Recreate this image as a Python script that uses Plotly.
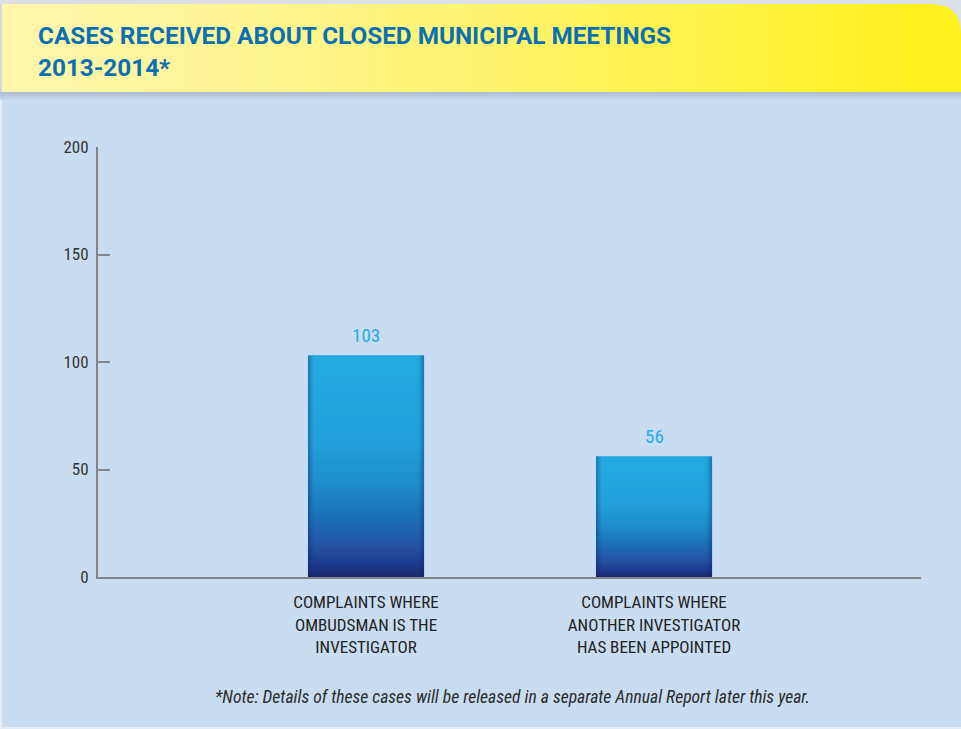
import plotly.graph_objects as go

# ---------------- data ----------------
categories = [
    "COMPLAINTS WHERE<br>OMBUDSMAN IS THE<br>INVESTIGATOR",
    "COMPLAINTS WHERE<br>ANOTHER INVESTIGATOR<br>HAS BEEN APPOINTED",
]
case_counts = [103, 56]
y_tick_values = [0, 50, 100, 150, 200]
title_lines = ["CASES RECEIVED ABOUT CLOSED MUNICIPAL MEETINGS", "2013-2014*"]
footnote = "*Note: Details of these cases will be released in a separate Annual Report later this year."

# ---------------- layout constants ----------------
W, H = 961, 729
ML, MR, MT, MB = 98, 40, 147, 152
PW, PH = W - ML - MR, H - MT - MB
NARROW = "Roboto Condensed, Liberation Sans, sans-serif"
BG = "#c8ddf1"


def px(xp):
    return (xp - ML) / PW


def py(yp):
    return (H - MB - yp) / PH


positions = list(range(len(categories)))
bar_w = 0.403

fig = go.Figure()

fig.add_trace(go.Bar(
    x=positions, y=case_counts, width=bar_w,
    marker=dict(color="#1f8ccc", line=dict(width=0)),
    hoverinfo="y", showlegend=False,
))

# vertical gradient overlay per bar (computed from data)
vscale = [[0, "#1a2a6c"], [0.06, "#1d3a8f"], [0.14, "#2452a4"], [0.26, "#1a6eb6"],
          [0.42, "#1f8ccc"], [0.6, "#21a0db"], [1, "#24aae2"]]
hscale = [[0, "rgba(10,30,80,0.35)"], [0.05, "rgba(10,30,80,0.0)"],
          [0.95, "rgba(10,30,80,0.0)"], [1, "rgba(10,30,80,0.35)"]]
for xi, v in zip(positions, case_counts):
    xs = [xi - bar_w / 2, xi + bar_w / 2, xi + bar_w / 2, xi - bar_w / 2, xi - bar_w / 2]
    ys = [0, 0, v, v, 0]
    fig.add_trace(go.Scatter(x=xs, y=ys, mode="lines", fill="toself", line=dict(width=0),
                             fillgradient=dict(type="vertical", colorscale=vscale),
                             hoverinfo="skip", showlegend=False))
    fig.add_trace(go.Scatter(x=xs, y=ys, mode="lines", fill="toself", line=dict(width=0),
                             fillgradient=dict(type="horizontal", colorscale=hscale),
                             hoverinfo="skip", showlegend=False))
    fig.add_annotation(x=xi, y=v, text=str(v), showarrow=False, yanchor="bottom", yshift=7,
                       font=dict(family=NARROW, size=19, color="#29abe2"))

shapes = []
# grey top frame
shapes.append(dict(type="rect", xref="paper", yref="paper", x0=px(0), x1=px(W), y0=py(0), y1=py(8),
                   fillcolor="#dce0e7", line=dict(width=0), layer="below"))
# shadow under header
for i, c in enumerate(["#aebfd3", "#b6c7da", "#bdcfe3", "#c3d7eb"]):
    shapes.append(dict(type="rect", xref="paper", yref="paper", x0=px(0), x1=px(W),
                       y0=py(92 + 2 * i), y1=py(94 + 2 * i),
                       fillcolor=c, line=dict(width=0), layer="below"))
shapes.append(dict(type="rect", xref="paper", yref="paper", x0=px(0), x1=px(2), y0=py(4), y1=py(92),
                   fillcolor="#d3d9e2", line=dict(width=0), layer="below"))
# light left edge and bottom row
shapes.append(dict(type="rect", xref="paper", yref="paper", x0=px(0), x1=px(2), y0=py(100), y1=py(H),
                   fillcolor="#e4edf7", line=dict(width=0), layer="below"))
shapes.append(dict(type="rect", xref="paper", yref="paper", x0=px(0), x1=px(W), y0=py(727), y1=py(H),
                   fillcolor="#e4edf7", line=dict(width=0), layer="below"))

# header gradient strips
left_rgb = (255, 246, 170)
right_rgb = (255, 240, 30)
x_start, x_end, nstrip = 2, 930, 40
step = (x_end - x_start) / nstrip
for i in range(nstrip):
    t = i / (nstrip - 1)
    t = t ** 1.3
    col = "rgb(%d,%d,%d)" % tuple(int(round(a + (b - a) * t)) for a, b in zip(left_rgb, right_rgb))
    x0 = x_start + i * step
    shapes.append(dict(type="rect", xref="paper", yref="paper", x0=px(x0), x1=px(x0 + step + 0.6),
                       y0=py(4), y1=py(92), fillcolor=col, line=dict(width=0), layer="below"))
# rounded top-right part
r = 30
path = "M %f,%f L %f,%f L %f,%f Q %f,%f %f,%f L %f,%f Z" % (
    px(x_end), py(92), px(x_end), py(4), px(W - r), py(4), px(W), py(4), px(W), py(4 + r), px(W), py(92))
shapes.append(dict(type="path", xref="paper", yref="paper", path=path,
                   fillcolor="rgb(255,240,30)", line=dict(width=0), layer="below"))
# grey corner outside the rounded edge
corner = "M %f,%f L %f,%f L %f,%f Q %f,%f %f,%f Z" % (
    px(W - r), py(0), px(W), py(0), px(W), py(4 + r), px(W), py(4), px(W - r), py(4))
shapes.append(dict(type="path", xref="paper", yref="paper", path=corner,
                   fillcolor="#dce0e7", line=dict(width=0), layer="below"))

fig.add_annotation(xref="paper", yref="paper", x=px(36), y=py(19), xanchor="left", yanchor="top",
                   align="left", showarrow=False, text="<b>" + "<br>".join(title_lines) + "</b>",
                   font=dict(family="Roboto, Liberation Sans, sans-serif", size=24.3, color="#0a70b5"))

fig.add_annotation(xref="paper", yref="paper", x=px(512), y=py(697), xanchor="center", yanchor="middle",
                   showarrow=False, text="<i>" + footnote + "</i>",
                   font=dict(family=NARROW, size=17.6, color="#2b2b2b"))

fig.update_layout(
    width=W, height=H,
    margin=dict(l=ML, r=MR, t=MT, b=MB, autoexpand=False),
    paper_bgcolor=BG, plot_bgcolor=BG,
    shapes=shapes, showlegend=False,
    xaxis=dict(range=[-0.9306, 1.927], tickvals=positions, ticktext=categories,
               showgrid=False, zeroline=False, showline=True, linecolor="#80868c", linewidth=2,
               ticks="", tickfont=dict(family=NARROW, size=17, color="#222222"),
               ticklabelstandoff=9, fixedrange=True),
    yaxis=dict(range=[0, 200], tickvals=y_tick_values, showgrid=False, zeroline=False,
               showline=True, linecolor="#80868c", linewidth=2,
               ticks="inside", ticklen=12, tickwidth=2, tickcolor="#80868c",
               tickfont=dict(family=NARROW, size=17, color="#333333"),
               ticklabelstandoff=4, fixedrange=True),
)

fig.write_html("out.html", config={"displayModeBar": False},
               post_script="document.body.style.margin='0';")
